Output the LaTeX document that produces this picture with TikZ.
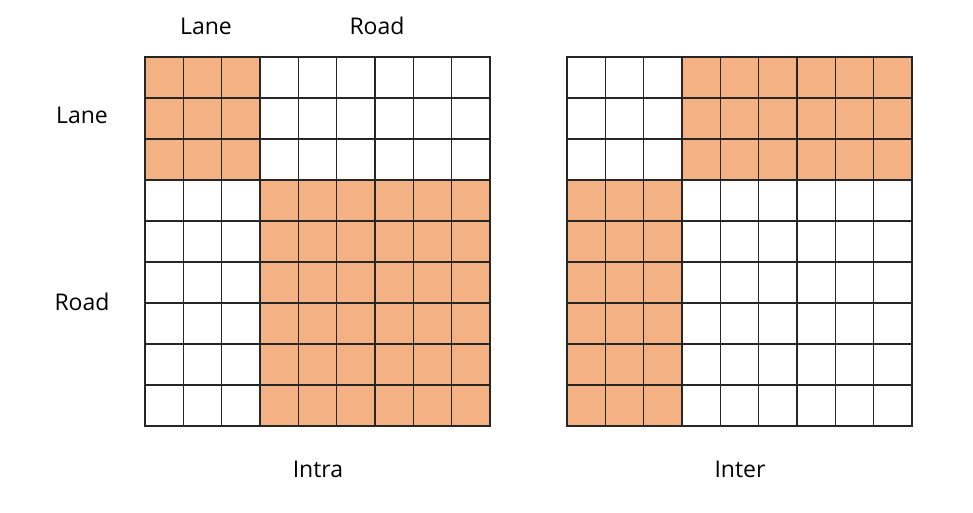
\documentclass[tikz,border=0pt]{standalone}
\usepackage{fontspec}
\setmainfont{Open Sans}
\definecolor{cellorange}{HTML}{F4B183}
\tikzset{
  cell/.style={draw=black!85,line width=1.2pt},
  label/.style={font=\fontsize{23}{27}\selectfont,inner sep=0}
}
\begin{document}
\begin{tikzpicture}[x=1pt,y=-1pt]%
  \useasboundingbox (0,0) rectangle (973,512);
  \pgfmathsetmacro{\w}{345/9}
  \pgfmathsetmacro{\h}{369/9}
  % both grids, 3 lanes + 6 roads
  \foreach \row in {0,...,8} {
    \foreach \col in {0,...,8} {
      \pgfmathtruncatemacro{\same}{(\row<3)==(\col<3)}
      \ifnum\same=1 \def\fa{cellorange}\def\fb{white}\else\def\fa{white}\def\fb{cellorange}\fi
      \filldraw[cell,fill=\fa] (145+\col*\w,57+\row*\h) rectangle ++(\w,\h);
      \filldraw[cell,fill=\fb] (567+\col*\w,57+\row*\h) rectangle ++(\w,\h);
    }
  }
  \node[label] (lanetop) at (206,26) {Lane};
  \node[label] (roadtop) at (377,26) {Road};
  \node[label] (laneleft) at (82,115) {Lane};
  \node[label] (roadleft) at (82,302) {Road};
  \node[label] (intra) at (318,469) {Intra};
  \node[label] (inter) at (740,469) {Inter};
\end{tikzpicture}
\end{document}
